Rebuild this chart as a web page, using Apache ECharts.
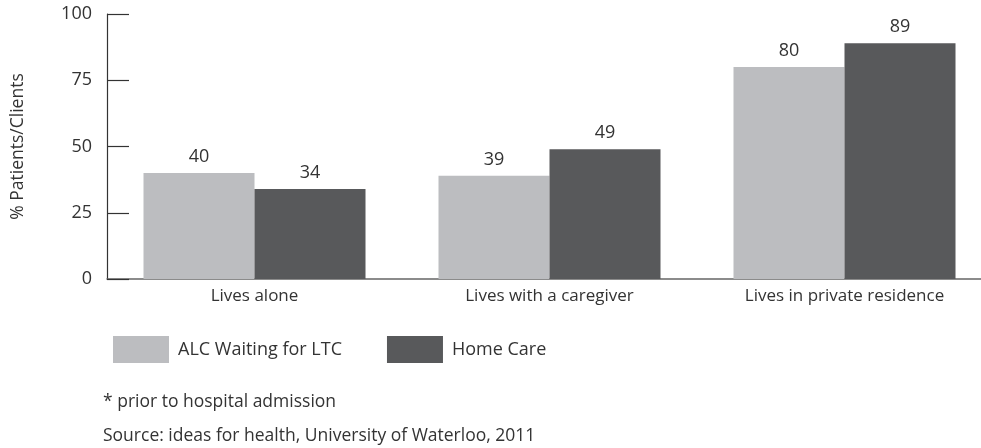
<!DOCTYPE html>
<html>
<head>
<meta charset="utf-8">
<script src="https://cdn.jsdelivr.net/npm/echarts@6/dist/echarts.min.js"></script>
<style>
  html, body { margin: 0; padding: 0; background: #fff; }
  #chart { width: 981px; height: 448px; }
</style>
</head>
<body>
<div id="chart"></div>
<script>
var categories = ['Lives alone', 'Lives with a caregiver', 'Lives in private residence'];
var alcWaiting = [40, 39, 80];
var homeCare = [34, 49, 89];
var yTicks = [0, 25, 50, 75, 100];

(function() {
    var myChart = echarts.init(document.getElementById('chart'));
    var font = '"Open Sans", "Noto Sans", sans-serif';

    var option = {
        animation: false,
        textStyle: { fontFamily: font },
        grid: { left: 107, width: 885, top: 14, bottom: 169, outerBoundsMode: 'none', containLabel: false },
        legend: {
            left: 108,
            top: 331,
            itemWidth: 56,
            itemHeight: 27,
            itemGap: 45,
            icon: 'rect',
            textStyle: { fontSize: 18, color: '#333', fontFamily: font, padding: [0, 0, 0, 4] },
            data: ['ALC Waiting for LTC', 'Home Care']
        },
        xAxis: {
            type: 'category',
            data: categories,
            axisLine: { lineStyle: { color: '#666', width: 1.5 } },
            axisTick: { show: false },
            axisLabel: { fontSize: 17, color: '#333', margin: 9, fontFamily: font }
        },
        yAxis: {
            type: 'value',
            min: yTicks[0],
            max: yTicks[yTicks.length - 1],
            interval: 25,
            name: '% Patients/Clients',
            nameLocation: 'middle',
            nameGap: 80,
            nameTextStyle: { fontSize: 17.5, color: '#333', fontFamily: font },
            axisLine: { show: true, lineStyle: { color: '#333', width: 1.2 } },
            axisTick: { show: true, inside: true, length: 22, lineStyle: { color: '#333', width: 1.2 } },
            splitLine: { show: false },
            axisLabel: { fontSize: 18, color: '#333', margin: 15, fontFamily: font }
        },
        series: [{
            name: 'ALC Waiting for LTC',
            type: 'bar',
            data: alcWaiting,
            barWidth: 111,
            barGap: '0%',
            itemStyle: { color: '#bcbdc0' },
            label: { show: true, position: 'top', distance: 7, fontSize: 18, color: '#333', fontFamily: font }
        }, {
            name: 'Home Care',
            type: 'bar',
            data: homeCare,
            barWidth: 111,
            barGap: '0%',
            itemStyle: { color: '#58595b' },
            label: { show: true, position: 'top', distance: 7, fontSize: 18, color: '#333', fontFamily: font }
        }],
        graphic: [{
            type: 'text',
            left: 103,
            top: 393,
            style: { text: '* prior to hospital admission', fontSize: 17.5, fill: '#333', fontFamily: font }
        }, {
            type: 'text',
            left: 103,
            top: 427,
            style: { text: 'Source: ideas for health, University of Waterloo, 2011', fontSize: 17.5, fill: '#333', fontFamily: font }
        }]
    };

    myChart.setOption(option);
    window.addEventListener('resize', function() {
        myChart.resize();
    });
})();
</script>
</body>
</html>
